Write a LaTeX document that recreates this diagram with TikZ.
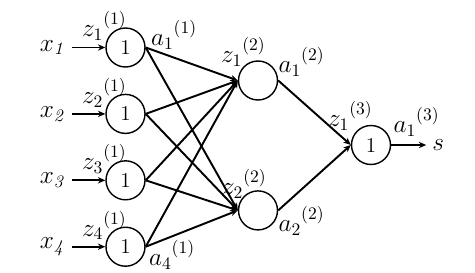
\documentclass[tikz,border=0pt]{standalone}
\usepackage{amsmath}
\usepackage{tikz}
\usetikzlibrary{arrows.meta,positioning}
\newcommand{\unit}[3]{$#1_{#2}{}^{\raisebox{1.6pt}{\fontsize{10}{12}\selectfont$(#3)$}}$}

\begin{document}
\begin{tikzpicture}[
    node distance=0.52cm,
    neuron/.style={circle, draw, line width=0.8pt, minimum size=0.78cm, inner sep=0pt, font=\large},
    lbl/.style={inner sep=0pt, font=\Large},
    arrow/.style={->, >={Stealth[length=4.2pt, width=3.6pt]}, line width=1.1pt},
]
\useasboundingbox (0,0) rectangle (9.5,-5.46);

% === FIRST LAYER ===
\node[neuron] (n1-1) at (2.51,-0.95) {1};
\node[neuron, below=of n1-1] (n1-2) {1};
\node[neuron, below=of n1-2] (n1-3) {1};
\node[neuron, below=of n1-3] (n1-4) {1};

% === SECOND LAYER ===
\node[neuron] (n2-1) at (5.16,-1.61) {};
\node[neuron, below=1.79cm of n2-1] (n2-2) {};

% === OUTPUT LAYER ===
\node[neuron] (n3-1) at (7.42,-2.90) {1};
\node[font=\Large, right=0.7cm of n3-1] (s) {$s$};

% === INPUTS ===
\foreach \i in {1,...,4} {
    \node[font=\Large, left=0.66cm of n1-\i] (x\i) {$x_{\mathit{\i}}$};
    \draw[arrow] (x\i) -- (n1-\i);
    \node[lbl, anchor=south east] (z1-\i) at ([shift={(0.03,0.13)}]n1-\i.center) {\unit{z}{\i}{1}};
}

% === LABELS ===
\node[lbl, anchor=south west] (a1-1) at ([shift={(0.1,-0.05)}]n1-1.east) {\unit{a}{1}{1}};
\node[lbl, anchor=north west] (a1-4) at ([shift={(0.06,0.13)}]n1-4.east) {\unit{a}{4}{1}};
\node[lbl, anchor=south east] (z2-1) at ([shift={(0.16,0.27)}]n2-1.center) {\unit{z}{1}{2}};
\node[lbl, anchor=south east] (z2-2) at ([shift={(0.18,0.24)}]n2-2.center) {\unit{z}{2}{2}};
\node[lbl, anchor=south west] (a2-1) at ([shift={(0,0.07)}]n2-1.east) {\unit{a}{1}{2}};
\node[lbl, anchor=north west] (a2-2) at ([shift={(0,0.08)}]n2-2.east) {\unit{a}{2}{2}};
\node[lbl, anchor=south east] (z3-1) at ([shift={(0.04,0.28)}]n3-1.center) {\unit{z}{1}{3}};
\node[lbl, anchor=south west] (a3-1) at ([shift={(0.04,0.16)}]n3-1.east) {\unit{a}{1}{3}};

% === CONNECTIONS ===
\foreach \i in {1,...,4}
    \foreach \j in {1,2}
        \draw[arrow] (n1-\i.east) -- (n2-\j.west);
\foreach \j in {1,2}
    \draw[arrow] (n2-\j.east) -- (n3-1.west);
\draw[arrow] (n3-1) -- (s);

\end{tikzpicture}
\end{document}
